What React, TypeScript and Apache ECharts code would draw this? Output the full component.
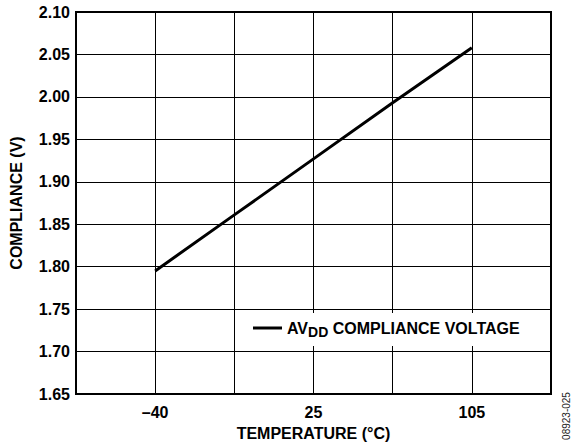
import React, { useEffect, useRef } from "react";
import * as echarts from "echarts";

const xCategories = ["", "–40", "", "25", "", "105", ""];
const complianceV = [null, 1.795, 1.861, 1.927, 1.993, 2.058, null];
const yMin = 1.65;
const yMax = 2.1;
const yStep = 0.05;
const seriesName = "AVDD COMPLIANCE VOLTAGE";
const FONT = "'Liberation Sans', Arial, Helvetica, sans-serif";
const FS = 16;

export default function App() {
  const ref = useRef<HTMLDivElement>(null);
  useEffect(() => {
    if (!ref.current) return;
    const chart = echarts.init(ref.current, undefined, { renderer: "svg" });
    chart.setOption({
      animation: false,
      backgroundColor: "#fff",
      textStyle: { fontFamily: FONT },
      grid: {
        left: 72,
        top: 12,
        right: 20,
        bottom: 51,
        show: true,
        borderColor: "#000",
        borderWidth: 2,
        backgroundColor: "transparent",
      },
      legend: {
        show: true,
        left: 243,
        top: 313,
        backgroundColor: "#fff",
        padding: [7, 12, 7, 10],
        itemWidth: 29,
        itemHeight: 3,
        icon: "rect",
        itemStyle: { color: "#000", borderWidth: 0 },
        data: [seriesName],
        formatter: () => "AV{sub|DD} COMPLIANCE VOLTAGE",
        textStyle: {
          fontFamily: FONT,
          fontWeight: "bold",
          fontSize: FS,
          color: "#000",
          rich: {
            sub: {
              fontFamily: FONT,
              fontWeight: "bold",
              fontSize: 14,
              color: "#000",
              padding: [8, 0, 0, 0],
            },
          },
        },
      },
      xAxis: {
        type: "category",
        boundaryGap: false,
        data: xCategories,
        name: "TEMPERATURE (°C)",
        nameLocation: "middle",
        nameGap: 31,
        nameTextStyle: { fontFamily: FONT, fontWeight: "bold", fontSize: FS, color: "#000" },
        axisLine: { show: true, lineStyle: { color: "#000", width: 2 } },
        axisTick: { show: false },
        axisLabel: {
          interval: 0,
          margin: 10,
          fontFamily: FONT,
          fontWeight: "bold",
          fontSize: FS,
          color: "#000",
        },
        splitLine: { show: true, interval: 0, lineStyle: { color: "#000", width: 1 } },
      },
      yAxis: {
        type: "value",
        min: yMin,
        max: yMax,
        interval: yStep,
        name: "COMPLIANCE (V)",
        nameLocation: "middle",
        nameGap: 52,
        nameTextStyle: { fontFamily: FONT, fontWeight: "bold", fontSize: FS, color: "#000" },
        axisLine: { show: true, lineStyle: { color: "#000", width: 2 } },
        axisTick: { show: false },
        axisLabel: {
          margin: 6,
          fontFamily: FONT,
          fontWeight: "bold",
          fontSize: FS,
          color: "#000",
          formatter: (v: number) => v.toFixed(2),
        },
        splitLine: { show: true, lineStyle: { color: "#000", width: 1 } },
      },
      series: [
        {
          name: seriesName,
          type: "line",
          data: complianceV,
          showSymbol: false,
          symbol: "none",
          connectNulls: false,
          lineStyle: { color: "#000", width: 3 },
          itemStyle: { color: "#000" },
        },
      ],
      graphic: [
        {
          type: "text",
          x: 566,
          y: 416,
          rotation: Math.PI / 2,
          style: {
            text: "08923-025",
            fontFamily: FONT,
            fontSize: 10,
            fill: "#222",
            textAlign: "center",
            textVerticalAlign: "middle",
          },
        },
      ],
    });
    return () => chart.dispose();
  }, []);
  return <div ref={ref} style={{ width: 571, height: 446, position: "absolute", left: 0, top: 0 }} />;
}
